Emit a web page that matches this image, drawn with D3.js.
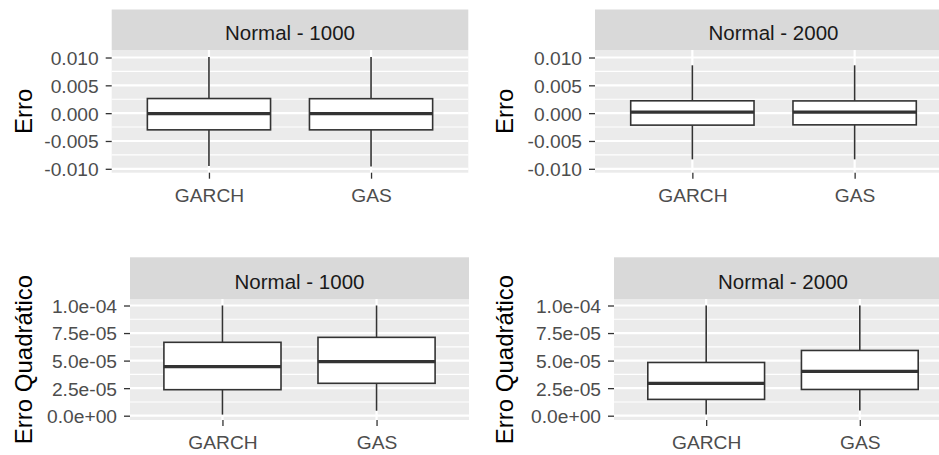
<!DOCTYPE html>
<html>
<head>
<meta charset="utf-8">
<script src="https://cdn.jsdelivr.net/npm/d3@7"></script>
<style>
  html, body { margin: 0; padding: 0; background: #ffffff; }
  svg { display: block; font-family: "Liberation Sans", Arial, sans-serif; }
</style>
</head>
<body>
<svg id="chart" width="939" height="455"></svg>
<script>
// Categories and facet titles
const models = ["GARCH", "GAS"];
const stripTitles = ["Normal - 1000", "Normal - 2000"];

// Box statistics per model: [lower whisker, Q1, median, Q3, upper whisker]
const erro1000 = [[-0.0095, -0.0030, -0.0001, 0.00263, 0.0101], [-0.0096, -0.0030, -0.0001, 0.0026, 0.0101]];
const erro2000 = [[-0.0083, -0.00215, 0.0002, 0.00222, 0.0086], [-0.0083, -0.0021, 0.0002, 0.0022, 0.0086]];
const quad1000 = [[1.0e-6, 2.36e-5, 4.45e-5, 6.66e-5, 1.0e-4], [4.5e-6, 2.94e-5, 4.9e-5, 7.11e-5, 1.0e-4]];
const quad2000 = [[1.0e-6, 1.48e-5, 2.93e-5, 4.83e-5, 1.0e-4], [4.8e-6, 2.38e-5, 4.02e-5, 5.92e-5, 1.0e-4]];

// Axis ticks, labels and ranges
const erroTicks = [-0.010, -0.005, 0, 0.005, 0.010];
const erroTickLabels = ["-0.010", "-0.005", "0.000", "0.005", "0.010"];
const quadTicks = [0, 2.5e-5, 5.0e-5, 7.5e-5, 1.0e-4];
const quadTickLabels = ["0.0e+00", "2.5e-05", "5.0e-05", "7.5e-05", "1.0e-04"];
const erroLimits = [-0.0107, 0.01135];
const quadLimits = [-3.9e-6, 1.059e-4];
const yTitles = ["Erro", "Erro Quadr\u00e1tico"];

const svg = d3.select("#chart");

const panels = [
  { stats: erro1000, title: stripTitles[0], ticks: erroTicks, labels: erroTickLabels, lim: erroLimits, ytitle: yTitles[0],
    x0: 111.7, x1: 468.3, stripTop: 9.5, y0: 50, y1: 172.7, titleX: 31.7 },
  { stats: erro2000, title: stripTitles[1], ticks: erroTicks, labels: erroTickLabels, lim: erroLimits, ytitle: yTitles[0],
    x0: 595, x1: 952, stripTop: 9.5, y0: 50, y1: 172.7, titleX: 513.3 },
  { stats: quad1000, title: stripTitles[0], ticks: quadTicks, labels: quadTickLabels, lim: quadLimits, ytitle: yTitles[1],
    x0: 130, x1: 469, stripTop: 257.3, y0: 299, y1: 420, titleX: 32 },
  { stats: quad2000, title: stripTitles[1], ticks: quadTicks, labels: quadTickLabels, lim: quadLimits, ytitle: yTitles[1],
    x0: 614, x1: 952, stripTop: 257.3, y0: 299, y1: 420, titleX: 513 }
];

const ink = "#333333";

panels.forEach(p => {
  const g = svg.append("g");
  const y = d3.scaleLinear().domain(p.lim).range([p.y1, p.y0]);
  const x = d3.scalePoint().domain(models).range([p.x0, p.x1]).padding(0.6);
  const step = x.step();

  // panel background
  g.append("rect").attr("x", p.x0).attr("y", p.y0)
    .attr("width", p.x1 - p.x0).attr("height", p.y1 - p.y0).attr("fill", "#EBEBEB");

  // minor grid lines halfway between major ticks
  const minor = d3.pairs(p.ticks).map(([a, b]) => (a + b) / 2);
  g.selectAll(".minor").data(minor).join("line")
    .attr("x1", p.x0).attr("x2", p.x1)
    .attr("y1", d => y(d)).attr("y2", d => y(d))
    .attr("stroke", "#ffffff").attr("stroke-width", 1.1);

  // major grid lines
  g.selectAll(".major").data(p.ticks).join("line")
    .attr("x1", p.x0).attr("x2", p.x1)
    .attr("y1", d => y(d)).attr("y2", d => y(d))
    .attr("stroke", "#ffffff").attr("stroke-width", 2.2);
  g.selectAll(".vmajor").data(models).join("line")
    .attr("x1", d => x(d)).attr("x2", d => x(d))
    .attr("y1", p.y0).attr("y2", p.y1)
    .attr("stroke", "#ffffff").attr("stroke-width", 2.2);

  // strip
  g.append("rect").attr("x", p.x0).attr("y", p.stripTop)
    .attr("width", p.x1 - p.x0).attr("height", p.y0 - p.stripTop).attr("fill", "#D9D9D9");
  g.append("text").attr("x", (p.x0 + p.x1) / 2).attr("y", (p.stripTop + p.y0) / 2 + 10.5)
    .attr("text-anchor", "middle").attr("font-size", 20.5).attr("fill", "#1A1A1A").text(p.title);

  // boxes
  const bw = 0.76 * step;
  const box = g.selectAll(".box").data(p.stats.map((s, i) => ({ m: models[i], s }))).join("g");
  box.append("line")
    .attr("x1", d => x(d.m)).attr("x2", d => x(d.m))
    .attr("y1", d => y(d.s[3])).attr("y2", d => y(d.s[4]))
    .attr("stroke", ink).attr("stroke-width", 1.6);
  box.append("line")
    .attr("x1", d => x(d.m)).attr("x2", d => x(d.m))
    .attr("y1", d => y(d.s[0])).attr("y2", d => y(d.s[1]))
    .attr("stroke", ink).attr("stroke-width", 1.6);
  box.append("rect")
    .attr("x", d => x(d.m) - bw / 2).attr("width", bw)
    .attr("y", d => y(d.s[3])).attr("height", d => y(d.s[1]) - y(d.s[3]))
    .attr("fill", "#ffffff").attr("stroke", ink).attr("stroke-width", 1.6);
  box.append("line")
    .attr("x1", d => x(d.m) - bw / 2).attr("x2", d => x(d.m) + bw / 2)
    .attr("y1", d => y(d.s[2])).attr("y2", d => y(d.s[2]))
    .attr("stroke", ink).attr("stroke-width", 3.2);

  // y axis
  const yAxis = g.append("g").attr("transform", `translate(${p.x0},0)`)
    .call(d3.axisLeft(y).tickValues(p.ticks).tickFormat((d, i) => p.labels[i]).tickSize(6).tickPadding(7));
  yAxis.select(".domain").remove();
  yAxis.selectAll(".tick line").attr("stroke", ink).attr("stroke-width", 1.3);
  yAxis.selectAll(".tick text").attr("fill", "#4D4D4D").attr("font-size", 19.2)
    .attr("font-family", "Liberation Sans, Arial, sans-serif").attr("dy", "0.36em");

  // x axis
  const xAxis = g.append("g").attr("transform", `translate(0,${p.y1})`)
    .call(d3.axisBottom(x).tickSize(6).tickPadding(9.5));
  xAxis.select(".domain").remove();
  xAxis.selectAll(".tick line").attr("stroke", ink).attr("stroke-width", 1.3);
  xAxis.selectAll(".tick text").attr("fill", "#4D4D4D").attr("font-size", 19.2)
    .attr("font-family", "Liberation Sans, Arial, sans-serif");

  // y title
  const cy = (p.y0 + p.y1) / 2;
  g.append("text").attr("transform", `translate(${p.titleX},${cy}) rotate(-90)`)
    .attr("text-anchor", "middle").attr("font-size", 24).attr("fill", "#000000").text(p.ytitle);
});
</script>
</body>
</html>
